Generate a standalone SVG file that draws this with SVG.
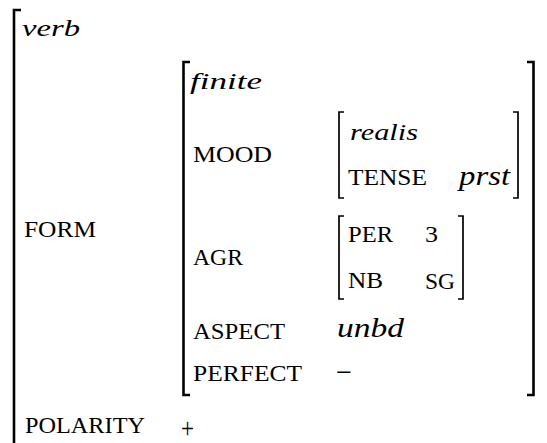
<svg xmlns="http://www.w3.org/2000/svg" width="547" height="443" viewBox="0 0 547 443">
<style>
.bk{fill:none;stroke:#000;stroke-width:2.6;stroke-linecap:butt;stroke-linejoin:miter}
.bs{fill:none;stroke:#000;stroke-width:1.7;stroke-linecap:butt;stroke-linejoin:miter}
text{fill:#000}
.it{font-style:italic;font-size:24px}
.iv{font-style:italic;font-size:27px}
.sc{font-size:23px}
.sy{font-size:30px}
</style>
<rect width="547" height="443" fill="#fff"/>
<g font-family="Liberation Serif, Times New Roman, DejaVu Serif, serif">
<g id="outer">
<path class="bk" d="M21,10 H14 V460"/>
<text class="it" x="22" y="36" textLength="58" lengthAdjust="spacingAndGlyphs">verb</text>
<text class="sc" x="24" y="237" textLength="72" lengthAdjust="spacingAndGlyphs">FORM</text>
<text class="sc" x="25" y="433" textLength="120" lengthAdjust="spacingAndGlyphs">POLARITY</text>
<text class="sy" x="181" y="438" textLength="13" lengthAdjust="spacingAndGlyphs">+</text>
</g>
<g id="form">
<path class="bk" d="M190,62 H183.5 V395 H190"/>
<path class="bk" d="M527,62 H533.5 V395 H527"/>
<text class="it" x="190" y="89" textLength="72" lengthAdjust="spacingAndGlyphs">finite</text>
<text class="sc" x="193" y="162" textLength="79" lengthAdjust="spacingAndGlyphs">MOOD</text>
<text class="sc" x="193" y="265" textLength="50" lengthAdjust="spacingAndGlyphs">AGR</text>
<text class="sc" x="193" y="339" textLength="92" lengthAdjust="spacingAndGlyphs">ASPECT</text>
<text class="iv" x="337" y="337" textLength="67" lengthAdjust="spacingAndGlyphs">unbd</text>
<text class="sc" x="193" y="381" textLength="109" lengthAdjust="spacingAndGlyphs">PERFECT</text>
<text class="sy" x="336" y="382" textLength="16" lengthAdjust="spacingAndGlyphs">−</text>
</g>
<g id="mood">
<path class="bs" d="M344,112 H339 V198 H344"/>
<path class="bs" d="M513,112 H518 V198 H513"/>
<text class="it" x="350" y="140" textLength="68" lengthAdjust="spacingAndGlyphs">realis</text>
<text class="sc" x="348" y="185" textLength="79" lengthAdjust="spacingAndGlyphs">TENSE</text>
<text class="iv" x="459" y="185" textLength="51" lengthAdjust="spacingAndGlyphs">prst</text>
</g>
<g id="agr">
<path class="bs" d="M344,216 H339 V299 H344"/>
<path class="bs" d="M458,216 H463 V299 H458"/>
<text class="sc" x="348" y="242" textLength="45" lengthAdjust="spacingAndGlyphs">PER</text>
<text class="sc" x="425" y="242" textLength="13" lengthAdjust="spacingAndGlyphs">3</text>
<text class="sc" x="348" y="288" textLength="35" lengthAdjust="spacingAndGlyphs">NB</text>
<text class="sc" x="425" y="289" textLength="30" lengthAdjust="spacingAndGlyphs">SG</text>
</g>
</g>
</svg>
